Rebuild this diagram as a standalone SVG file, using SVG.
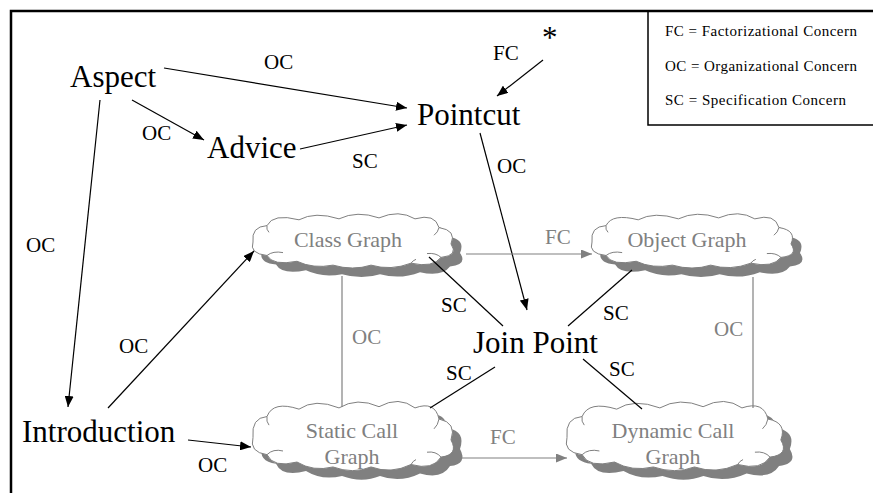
<svg xmlns="http://www.w3.org/2000/svg" width="873" height="493" viewBox="0 0 873 493" font-family="'Liberation Serif', 'DejaVu Serif', serif">
<style>
text{font-family:'Liberation Serif','DejaVu Serif',serif;}
.big{font-size:31px;fill:#000;}
.lbl{font-size:21px;fill:#000;}
.glbl{font-size:21px;fill:#808080;}
.ctext{font-size:22px;fill:#808080;text-anchor:middle;}
.leg{font-size:15px;fill:#000;}
.blk{stroke:#000;stroke-width:1.2;fill:none;}
.gry{stroke:#808080;stroke-width:1.2;fill:none;}
.shadow{fill:#808080;stroke:none;}
.cloud{fill:#fff;stroke:#808080;stroke-width:1;}
.cdet{fill:none;stroke:#808080;stroke-width:1;}
</style>
<defs>
<path id="cloudShape" vector-effect="non-scaling-stroke" d="M0,28 Q-2,12 14,11 Q20,-2 46,5 Q62,-4 86,4 Q104,-5 126,3 Q146,-6 162,4 Q182,-2 186,13 Q204,16 198,30 Q206,42 188,44 Q180,55 158,50 Q138,58 118,52 Q100,58 80,52 Q60,56 44,48 Q20,53 14,42 Q-4,40 0,28 Z"/>
<path id="cloudDetail" vector-effect="non-scaling-stroke" d="M14,42 Q20,37 30,39 M188,44 Q183,39 174,40 M186,13 Q185,18 181,21 M14,11 Q13,15 16,18 M158,50 Q160,47 163,46"/>
<marker id="ab" markerWidth="11" markerHeight="9" refX="11" refY="4.5" orient="auto" markerUnits="userSpaceOnUse"><path d="M0,0 L11,4.5 L0,9 Z" fill="#000"/></marker>
<marker id="ag" markerWidth="11" markerHeight="9" refX="11" refY="4.5" orient="auto" markerUnits="userSpaceOnUse"><path d="M0,0 L11,4.5 L0,9 Z" fill="#808080"/></marker>
</defs>
<rect width="873" height="493" fill="#fff"/>
<g id="frame">
<path d="M11,493 L11,11 L873,11" fill="none" stroke="#000" stroke-width="2.5"/>
</g>
<g id="legend">
<path d="M648,11 L648,125 L873,125" fill="none" stroke="#000" stroke-width="1.5"/>
<text class="leg" x="665" y="36" textLength="192">FC = Factorizational Concern</text>
<text class="leg" x="665" y="71" textLength="192">OC = Organizational Concern</text>
<text class="leg" x="665" y="105" textLength="181">SC = Specification Concern</text>
</g>
<g id="class-graph">
<use href="#cloudShape" class="shadow" transform="translate(262,224) scale(1,0.964)"/>
<use href="#cloudShape" class="cloud" transform="translate(253,215) scale(1,0.964)"/>
<use href="#cloudDetail" class="cdet" transform="translate(253,215) scale(1,0.964)"/>
<text class="ctext" x="348" y="247">Class Graph</text>
</g>
<g id="object-graph">
<use href="#cloudShape" class="shadow" transform="translate(601,224) scale(1.005,0.964)"/>
<use href="#cloudShape" class="cloud" transform="translate(592,215) scale(1.005,0.964)"/>
<use href="#cloudDetail" class="cdet" transform="translate(592,215) scale(1.005,0.964)"/>
<text class="ctext" x="687" y="247">Object Graph</text>
</g>
<g id="static-call-graph">
<use href="#cloudShape" class="shadow" transform="translate(262,412) scale(1,1.23)"/>
<use href="#cloudShape" class="cloud" transform="translate(253,403) scale(1,1.23)"/>
<use href="#cloudDetail" class="cdet" transform="translate(253,403) scale(1,1.23)"/>
<text class="ctext" x="352" y="438">Static Call</text>
<text class="ctext" x="352" y="464">Graph</text>
</g>
<g id="dynamic-call-graph">
<use href="#cloudShape" class="shadow" transform="translate(576,412) scale(1.08,1.23)"/>
<use href="#cloudShape" class="cloud" transform="translate(567,403) scale(1.08,1.23)"/>
<use href="#cloudDetail" class="cdet" transform="translate(567,403) scale(1.08,1.23)"/>
<text class="ctext" x="673" y="438">Dynamic Call</text>
<text class="ctext" x="673" y="464">Graph</text>
</g>
<g id="aspect"><text class="big" x="70" y="87">Aspect</text></g>
<g id="advice"><text class="big" x="207" y="158">Advice</text></g>
<g id="pointcut"><text class="big" x="417" y="125">Pointcut</text></g>
<g id="star"><text class="big" x="542" y="48">*</text></g>
<g id="join-point"><text class="big" x="473" y="353">Join Point</text></g>
<g id="introduction"><text class="big" x="22" y="442">Introduction</text></g>
<g id="connectors">
<line class="blk" x1="164" y1="68" x2="407" y2="108" marker-end="url(#ab)"/>
<line class="blk" x1="132" y1="100" x2="204" y2="140" marker-end="url(#ab)"/>
<line class="blk" x1="300" y1="149" x2="407" y2="125" marker-end="url(#ab)"/>
<line class="blk" x1="543" y1="60" x2="497" y2="96" marker-end="url(#ab)"/>
<line class="blk" x1="480" y1="133" x2="527" y2="310" marker-end="url(#ab)"/>
<line class="blk" x1="100" y1="100" x2="68" y2="407" marker-end="url(#ab)"/>
<line class="blk" x1="108" y1="408" x2="254" y2="251" marker-end="url(#ab)"/>
<line class="blk" x1="188" y1="440" x2="251" y2="447" marker-end="url(#ab)"/>
<line class="blk" x1="429" y1="257" x2="503" y2="326"/>
<line class="blk" x1="632" y1="270" x2="568" y2="326"/>
<line class="blk" x1="495" y1="367" x2="430" y2="408"/>
<line class="blk" x1="583" y1="359" x2="642" y2="409"/>
<line class="gry" x1="466" y1="254" x2="592" y2="254" marker-end="url(#ag)"/>
<line class="gry" x1="462" y1="458" x2="567" y2="458" marker-end="url(#ag)"/>
<line class="gry" x1="342" y1="276" x2="342" y2="407"/>
<line class="gry" x1="753" y1="277" x2="753" y2="408"/>
<text class="lbl" x="264" y="69">OC</text>
<text class="lbl" x="142" y="140">OC</text>
<text class="lbl" x="352" y="168">SC</text>
<text class="lbl" x="493" y="60">FC</text>
<text class="lbl" x="497" y="173">OC</text>
<text class="lbl" x="26" y="252">OC</text>
<text class="lbl" x="119" y="353">OC</text>
<text class="lbl" x="198" y="472">OC</text>
<text class="lbl" x="441" y="312">SC</text>
<text class="lbl" x="603" y="320">SC</text>
<text class="lbl" x="446" y="380">SC</text>
<text class="lbl" x="609" y="376">SC</text>
<text class="glbl" x="545" y="244">FC</text>
<text class="glbl" x="490" y="444">FC</text>
<text class="glbl" x="352" y="344">OC</text>
<text class="glbl" x="714" y="336">OC</text>
</g>
</svg>
